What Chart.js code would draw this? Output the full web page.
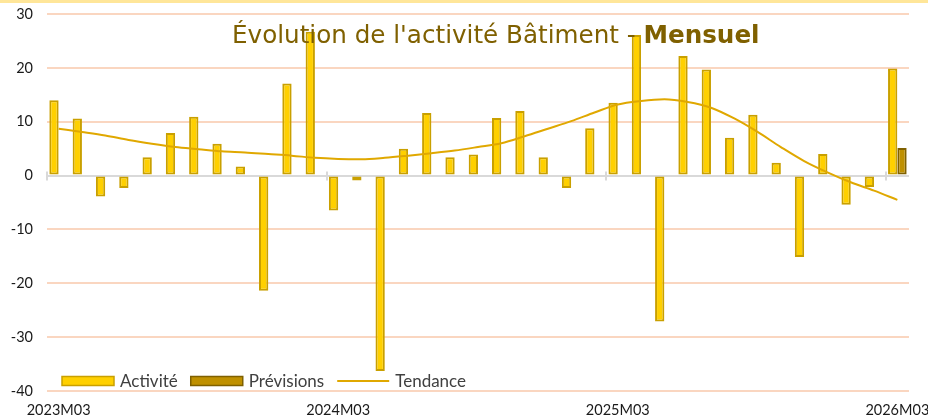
<!DOCTYPE html>
<html>
<head>
<meta charset="utf-8">
<script src="https://cdn.jsdelivr.net/npm/chart.js@4.4.1/dist/chart.umd.min.js"></script>
<style>
    html, body { margin: 0; padding: 0; background: #ffffff; }
    #boite { position: relative; width: 928px; height: 419px; }
</style>
</head>
<body>
<div id="boite"><canvas id="graphique"></canvas></div>
<script>
// Données
const mois = [
    '2023M03', '2023M04', '2023M05', '2023M06', '2023M07', '2023M08', '2023M09', '2023M10', '2023M11', '2023M12',
    '2024M01', '2024M02', '2024M03', '2024M04', '2024M05', '2024M06', '2024M07', '2024M08', '2024M09', '2024M10',
    '2024M11', '2024M12', '2025M01', '2025M02', '2025M03', '2025M04', '2025M05', '2025M06', '2025M07', '2025M08',
    '2025M09', '2025M10', '2025M11', '2025M12', '2026M01', '2026M02', '2026M03'
];
const activite = [
    14.0, 10.6, -3.9, -2.3, 3.4, 7.9, 10.9, 5.9, 1.7, -21.4,
    17.1, 26.7, -6.5, -0.9, -36.3, 5.0, 11.6, 3.4, 3.9, 10.7,
    12.0, 3.4, -2.3, 8.8, 13.5, 26.1, -27.1, 22.2, 19.7, 7.0,
    11.3, 2.4, -15.1, 4.0, -5.4, -2.1, 19.9
];
const previsions = [
    null, null, null, null, null, null, null, null, null, null,
    null, null, null, null, null, null, null, null, null, null,
    null, null, null, null, null, null, null, null, null, null,
    null, null, null, null, null, null, 5.1
];
const tendance = [
    8.7, 8.1, 7.45, 6.6, 5.9, 5.3, 4.9, 4.5, 4.3, 4.0,
    3.7, 3.3, 3.1, 3.05, 3.3, 3.7, 4.15, 4.65, 5.3, 6.0,
    7.3, 8.7, 10.1, 11.7, 13.2, 13.85, 14.15, 13.65, 12.6, 10.6,
    8.1, 5.3, 2.7, 0.6, -1.25, -2.8, -4.5
];
const graduationsY = [-40, -30, -20, -10, 0, 10, 20, 30];

const couleurs = {
    activite: '#FFD000', activiteBord: '#C9A000',
    previsions: '#BF9000', previsionsBord: '#7F6000',
    tendance: '#E0A800',
    grille: '#FAD6C0', zero: '#D9D9D9',
    titre: '#7F6000', texte: '#404040'
};

// Bandeau, titre, légende et repères sur la ligne zéro
const decor = {
    id: 'decor',
    beforeDraw(chart) {
        const ctx = chart.ctx;
        ctx.save();
        ctx.fillStyle = '#FFE699';
        ctx.fillRect(0, 0, chart.width, 3);
        ctx.restore();
    },
    afterDraw(chart) {
        const ctx = chart.ctx;
        const x = chart.scales.x;
        const y = chart.scales.y;
        const zero = y.getPixelForValue(0);
        const pas = x.getPixelForValue(1) - x.getPixelForValue(0);

        // petits repères annuels
        ctx.save();
        ctx.strokeStyle = couleurs.zero;
        ctx.lineWidth = 2;
        for (let i = 0; i < mois.length; i += 12) {
            const px = Math.round(x.getPixelForValue(i) - pas / 2);
            ctx.beginPath();
            ctx.moveTo(px, zero - 4);
            ctx.lineTo(px, zero + 5);
            ctx.stroke();
        }
        ctx.restore();

        // titre
        const debut = "Évolution de l'activité Bâtiment - ";
        const fin = 'Mensuel';
        const famille = '"DejaVu Sans", sans-serif';
        ctx.save();
        ctx.font = '26px ' + famille;
        let w1 = ctx.measureText(debut).width;
        ctx.font = 'bold 26px ' + famille;
        let w2 = ctx.measureText(fin).width;
        const taille = 26 * 528 / (w1 + w2);
        ctx.fillStyle = couleurs.titre;
        ctx.textBaseline = 'alphabetic';
        ctx.font = taille + 'px ' + famille;
        w1 = ctx.measureText(debut).width;
        ctx.fillText(debut, 232, 43);
        ctx.font = 'bold ' + taille + 'px ' + famille;
        ctx.fillText(fin, 232 + w1, 43);
        ctx.restore();

        // légende
        ctx.save();
        ctx.font = '17px Lato, sans-serif';
        ctx.textBaseline = 'middle';
        const yl = 381;
        let xl = 62;
        const items = [
            { nom: 'Activité', type: 'barre', fond: couleurs.activite, bord: couleurs.activiteBord },
            { nom: 'Prévisions', type: 'barre', fond: couleurs.previsions, bord: couleurs.previsionsBord },
            { nom: 'Tendance', type: 'ligne', bord: couleurs.tendance }
        ];
        items.forEach(function(it) {
            if (it.type === 'barre') {
                ctx.fillStyle = it.fond;
                ctx.fillRect(xl, yl - 4.5, 52, 9);
                ctx.strokeStyle = it.bord;
                ctx.lineWidth = 1.5;
                ctx.strokeRect(xl, yl - 4.5, 52, 9);
            } else {
                ctx.strokeStyle = it.bord;
                ctx.lineWidth = 2;
                ctx.beginPath();
                ctx.moveTo(xl, yl);
                ctx.lineTo(xl + 52, yl);
                ctx.stroke();
            }
            ctx.fillStyle = couleurs.texte;
            ctx.fillText(it.nom, xl + 58, yl + 1);
            xl += 58 + ctx.measureText(it.nom).width + 13;
        });
        ctx.restore();
    }
};

const ctxGraph = document.getElementById('graphique').getContext('2d');
new Chart(ctxGraph, {
    type: 'bar',
    data: {
        labels: mois,
        datasets: [
            {
                type: 'line',
                label: 'Tendance',
                data: tendance,
                borderColor: couleurs.tendance,
                borderWidth: 2,
                pointRadius: 0,
                cubicInterpolationMode: 'monotone',
                fill: false,
                order: 0
            },
            {
                label: 'Activité',
                data: activite,
                backgroundColor: couleurs.activite,
                borderColor: couleurs.activiteBord,
                borderWidth: 2,
                borderSkipped: false,
                order: 1
            },
            {
                label: 'Prévisions',
                data: previsions,
                backgroundColor: couleurs.previsions,
                borderColor: couleurs.previsionsBord,
                borderWidth: 2,
                borderSkipped: false,
                order: 1
            }
        ]
    },
    options: {
        responsive: true,
        maintainAspectRatio: false,
        animation: false,
        datasets: {
            bar: { categoryPercentage: 0.8, barPercentage: 1 }
        },
        layout: { padding: { top: 14, right: 19, left: 0, bottom: 0 } },
        plugins: {
            legend: { display: false },
            tooltip: { enabled: false },
            title: { display: false }
        },
        scales: {
            x: {
                offset: true,
                afterFit: function(scale) {
                    scale.height = 28;
                    scale.paddingLeft = 0;
                    scale.paddingRight = 0;
                },
                grid: { display: false, drawTicks: false },
                border: { display: false },
                ticks: {
                    autoSkip: false,
                    maxRotation: 0,
                    padding: 11,
                    color: '#1a1a1a',
                    font: { family: 'Lato, sans-serif', size: 14.5 },
                    callback: function(val, index) {
                        return index % 12 === 0 ? mois[index] : '';
                    }
                }
            },
            y: {
                min: -40,
                max: 30,
                afterBuildTicks: function(scale) {
                    scale.ticks = graduationsY.map(function(v) { return { value: v }; });
                },
                afterFit: function(scale) {
                    scale.width = 47;
                    scale.paddingTop = 0;
                    scale.paddingBottom = 0;
                },
                grid: {
                    drawTicks: false,
                    lineWidth: 2,
                    color: function(c) {
                        return c.tick && c.tick.value === 0 ? couleurs.zero : couleurs.grille;
                    }
                },
                border: { display: false },
                ticks: {
                    padding: 14,
                    color: '#1a1a1a',
                    font: { family: 'Lato, sans-serif', size: 14.5 }
                }
            }
        }
    },
    plugins: [decor]
});
</script>
</body>
</html>
